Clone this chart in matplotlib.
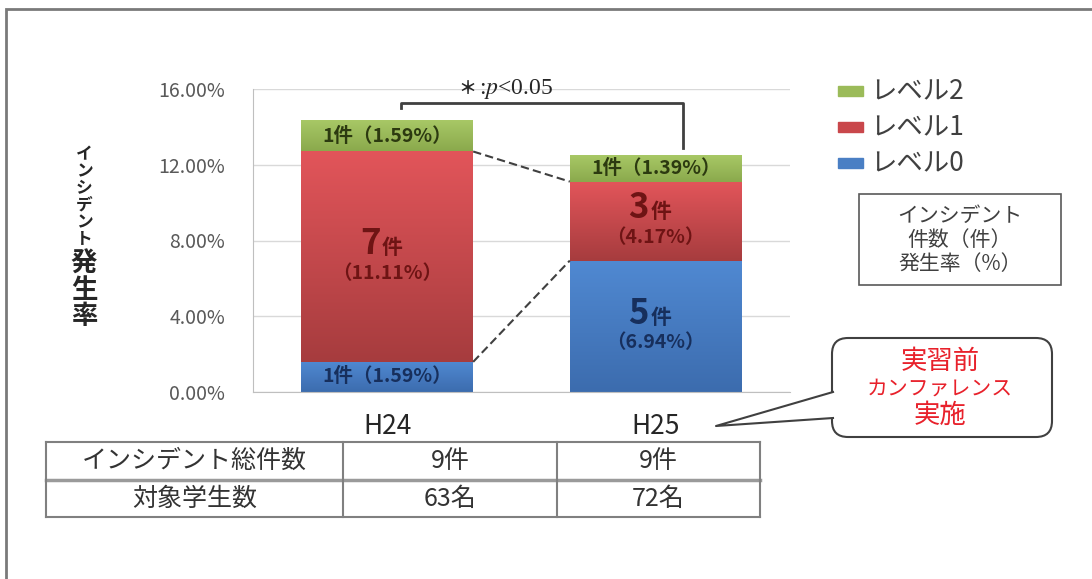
import matplotlib
matplotlib.use('Agg')
import matplotlib.pyplot as plt
import numpy as np
from matplotlib.colors import LinearSegmentedColormap
from matplotlib.patches import Rectangle, FancyBboxPatch, Polygon

plt.rcParams['font.family'] = ['Noto Sans CJK JP', 'DejaVu Sans']
plt.rcParams['mathtext.fontset'] = 'stix'

# incidence rate (%) and number of incidents per level
years = ['H24', 'H25']
rate0 = [1.59, 6.94]
rate1 = [11.11, 4.17]
rate2 = [1.59, 1.39]
count0 = [1, 5]
count1 = [7, 3]
count2 = [1, 1]
legend_labels = ['レベル2', 'レベル1', 'レベル0']
yticks = [0, 4, 8, 12, 16]

row_titles = ['インシデント総件数', '対象学生数']
total_incidents = ['9件', '9件']
students = ['63名', '72名']

GREEN, RED, BLUE = '#9bbb59', '#c9474b', '#4a7fc4'

W, H = 1092, 579
fig = plt.figure(figsize=(W / 100, H / 100), dpi=100)


def box(l, t, r, b):
    return [l / W, 1 - b / H, (r - l) / W, (b - t) / H]


# page layer in pixel coordinates (frame, legend, table, callout)
page = fig.add_axes([0, 0, 1, 1], zorder=0)
page.set_xlim(0, W)
page.set_ylim(H, 0)
page.axis('off')
page.plot([6, 6, W], [H, 9, 9], color='#7a7a7a', lw=2, solid_joinstyle='miter')

ax = fig.add_axes(box(253, 89, 790, 392), zorder=1)
ax.patch.set_alpha(0)

x = np.arange(len(years))
width = 0.64
base1 = np.array(rate0)
base2 = base1 + np.array(rate1)

b0 = ax.bar(x, rate0, width, color=BLUE, zorder=1)
b1 = ax.bar(x, rate1, width, bottom=base1, color=RED, zorder=1)
b2 = ax.bar(x, rate2, width, bottom=base2, color=GREEN, zorder=1)

grad = np.linspace(0, 1, 256).reshape(-1, 1)


def shade(bars, bottom_color, top_color):
    cmap = LinearSegmentedColormap.from_list('seg', [bottom_color, top_color])
    for p in bars:
        x0, y0 = p.get_x(), p.get_y()
        ax.imshow(grad, cmap=cmap, origin='lower', aspect='auto', zorder=2,
                  extent=(x0, x0 + p.get_width(), y0, y0 + p.get_height()))


shade(b0, '#3c6cae', '#5089d2')
shade(b1, '#a63c3e', '#e2555a')
shade(b2, '#8aa94c', '#a8c866')


def label(i, bottom, value, count, color):
    mid = bottom + value / 2
    if value < 3:
        ax.text(i, mid, f'{count}件（{value:.2f}%）', ha='center', va='center',
                fontsize=14, fontweight='bold', color=color, zorder=3)
        return
    ax.annotate(str(count), (i, mid), xytext=(-5, 2), textcoords='offset points',
                ha='right', va='baseline', fontsize=25, fontweight='bold',
                color=color, zorder=3)
    ax.annotate('件', (i, mid), xytext=(-4, 2), textcoords='offset points',
                ha='left', va='baseline', fontsize=15, fontweight='bold',
                color=color, zorder=3)
    ax.annotate(f'（{value:.2f}%）', (i, mid), xytext=(0, -5), textcoords='offset points',
                ha='center', va='top', fontsize=14, fontweight='bold',
                color=color, zorder=3)


for i in x:
    label(i, 0, rate0[i], count0[i], '#172f5c')
    label(i, base1[i], rate1[i], count1[i], '#6e1414')
    label(i, base2[i], rate2[i], count2[i], '#2c3a10')

# dashed connectors between the segment boundaries
for level in (base1, base2):
    ax.plot([x[0] + width / 2, x[1] - width / 2], level, ls=(0, (4, 2)),
            color='#404040', lw=1.5, zorder=4)

# significance bracket
ax.plot([0.05, 0.05, 1.10, 1.10], [15.0, 15.27, 15.27, 12.9], color='#404040',
        lw=2, clip_on=False, zorder=4)
ax.text(0.33, 16.0, '＊', ha='right', va='center', fontsize=13, fontweight='bold',
        color='#262626', clip_on=False)
ax.text(0.34, 16.0, r':$p$<0.05', ha='left', va='center', fontsize=17,
        family='Liberation Serif', color='#262626', clip_on=False)

ax.set_xlim(-0.5, 1.5)
ax.set_ylim(0, 16)
ax.set_yticks(yticks, [f'{v:.2f}%' for v in yticks])
ax.set_xticks(x, years)
ax.yaxis.grid(True, color='#d9d9d9', lw=1)
ax.set_axisbelow(True)
for s in ('top', 'right'):
    ax.spines[s].set_visible(False)
for s in ('left', 'bottom'):
    ax.spines[s].set_color('#bfbfbf')
ax.tick_params(axis='y', length=0, pad=20, labelsize=14, labelcolor='#595959')
ax.tick_params(axis='x', length=0, pad=15, labelsize=19, labelcolor='#262626')

# vertical axis title
for k, ch in enumerate('インシデント'):
    page.text(84, 154 + 17 * k, ch, ha='center', va='center', fontsize=12,
              fontweight='bold', color='#262626')
for k, ch in enumerate('発生率'):
    page.text(84, 264 + 26 * k, ch, ha='center', va='center', fontsize=19,
              fontweight='bold', color='#262626')

# legend
for k, (lab, col) in enumerate(zip(legend_labels, [GREEN, RED, BLUE])):
    yc = 91 + 36 * k
    page.add_patch(Rectangle((838, yc - 5), 25, 10, color=col))
    page.text(870, yc, lab, ha='left', va='center', fontsize=19, color='#404040')

page.add_patch(Rectangle((859, 194), 202, 91, fc='white', ec='#595959', lw=1.2))
for k, line in enumerate(['インシデント', '件数（件）', '発生率（%）']):
    page.text(960, 216 + 24 * k, line, ha='center', va='center', fontsize=15,
              color='#404040')

# table under the chart
tx = [46, 343, 557, 760]
ty = [442, 480, 517]
page.plot([tx[0], tx[-1]], [ty[0], ty[0]], color='#808080', lw=1.5)
page.plot([tx[0], tx[-1]], [ty[1], ty[1]], color='#9a9a9a', lw=2.5)
page.plot([tx[0], tx[-1]], [ty[2], ty[2]], color='#808080', lw=1.5)
for xv in tx:
    page.plot([xv, xv], [ty[0], ty[2]], color='#808080', lw=1.5)
rows = [[row_titles[0]] + total_incidents, [row_titles[1]] + students]
for r, row in enumerate(rows):
    yc = (ty[r] + ty[r + 1]) / 2
    for c, cell in enumerate(row):
        page.text((tx[c] + tx[c + 1]) / 2, yc, cell, ha='center', va='center',
                  fontsize=18, color='#333333')

# callout
page.add_patch(FancyBboxPatch((832, 338), 220, 99, boxstyle='round,pad=0,rounding_size=16',
                              fc='white', ec='#404040', lw=1.5))
page.add_patch(Polygon([(834, 392), (716, 426), (834, 418)], fc='white', ec='none'))
page.plot([833, 716, 833], [392, 426, 418], color='#404040', lw=1.5)
page.text(940, 361, '実習前', ha='center', va='center', fontsize=19, color='#e8212b')
page.text(940, 389, 'カンファレンス', ha='center', va='center', fontsize=15, color='#e8212b')
page.text(940, 415, '実施', ha='center', va='center', fontsize=19, color='#e8212b')

fig.savefig('out.png', dpi=100)
